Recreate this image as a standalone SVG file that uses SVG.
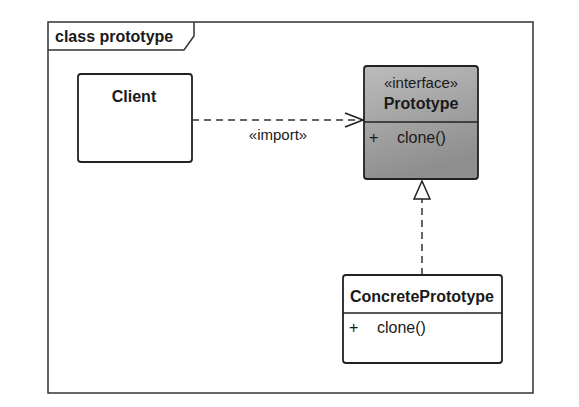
<svg xmlns="http://www.w3.org/2000/svg" width="579" height="407" viewBox="0 0 579 407">
<style>
text{font-family:"Liberation Sans",Arial,sans-serif;fill:#1a1a1a}
.b{font-weight:bold;font-size:16px}
.n{font-size:16px}
.s{font-size:15px}
.box{fill:#fff;stroke:#222;stroke-width:1.8}
.line{stroke:#222;stroke-width:1.5;fill:none}
.dash{stroke:#333;stroke-width:1.5;fill:none;stroke-dasharray:7 5}
</style>
<defs>
<linearGradient id="g" x1="0" y1="0" x2="0.3" y2="1">
<stop offset="0" stop-color="#bcbcbc"/>
<stop offset="1" stop-color="#8e8e8e"/>
</linearGradient>
<marker id="open" viewBox="0 0 20 16" refX="19" refY="8" markerWidth="20" markerHeight="16" markerUnits="userSpaceOnUse" orient="auto">
<path d="M1,1 L19,8 L1,15" fill="none" stroke="#222" stroke-width="1.6"/>
</marker>
<marker id="tri" viewBox="0 0 20 18" refX="19" refY="9" markerWidth="20" markerHeight="18" markerUnits="userSpaceOnUse" orient="auto">
<path d="M1,1 L19,9 L1,17 Z" fill="#fff" stroke="#222" stroke-width="1.5"/>
</marker>
</defs>
<rect width="579" height="407" fill="#fff"/>
<g id="frame">
<rect x="48" y="22" width="485" height="371" fill="none" stroke="#333" stroke-width="1.5"/>
<path d="M48,50 L184,50 L194,36 L194,22" fill="none" stroke="#333" stroke-width="1.5"/>
<text class="b" x="55" y="42">class prototype</text>
</g>
<g id="connectors">
<path class="dash" d="M192,120 L363,120" marker-end="url(#open)"/>
<text class="s" x="278" y="140" text-anchor="middle">«import»</text>
<path class="dash" d="M422,275 L422,181" marker-end="url(#tri)"/>
</g>
<g id="client">
<rect class="box" x="78" y="74" width="114" height="88" rx="3"/>
<text class="b" x="134" y="102" text-anchor="middle">Client</text>
</g>
<g id="prototype">
<rect x="364" y="66" width="114" height="113" rx="3" fill="url(#g)" stroke="#222" stroke-width="1.8"/>
<line class="line" x1="364" y1="122" x2="478" y2="122"/>
<text class="s" x="421" y="88" text-anchor="middle">«interface»</text>
<text class="b" x="421" y="109" text-anchor="middle">Prototype</text>
<text class="n" x="369" y="143">+</text>
<text class="n" x="397" y="143">clone()</text>
</g>
<g id="concrete">
<rect class="box" x="343" y="275" width="159" height="88" rx="3"/>
<line class="line" x1="343" y1="313" x2="502" y2="313"/>
<text class="b" x="422" y="302" text-anchor="middle">ConcretePrototype</text>
<text class="n" x="349" y="333">+</text>
<text class="n" x="377" y="333">clone()</text>
</g>
</svg>
